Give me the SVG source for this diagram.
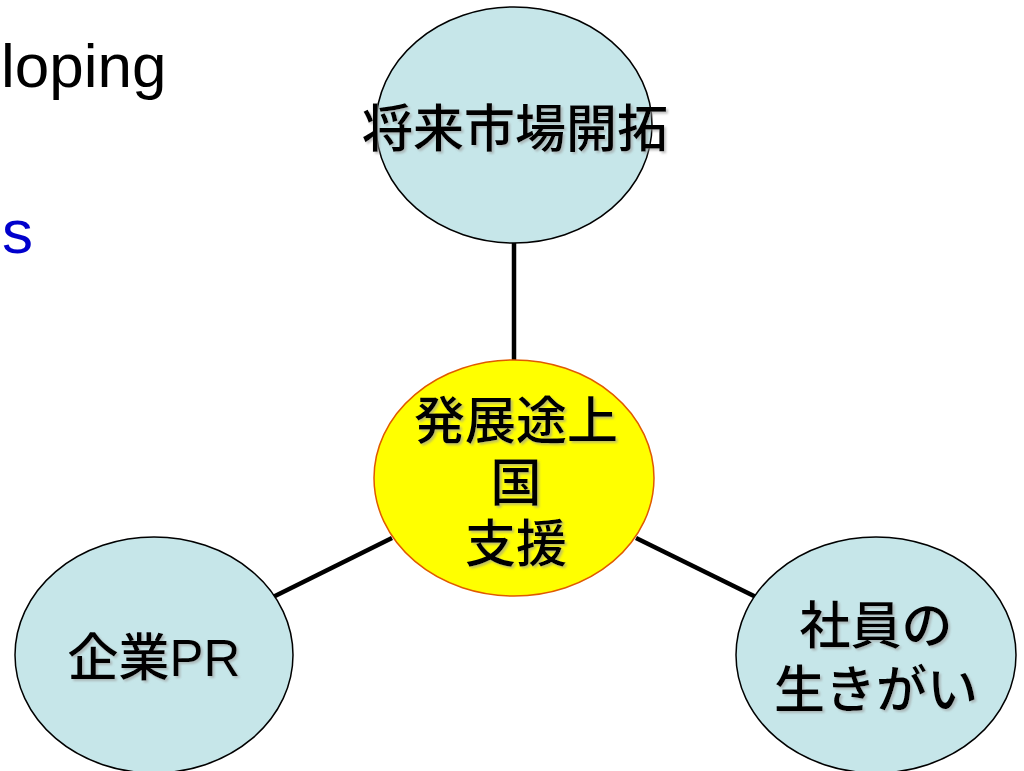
<svg xmlns="http://www.w3.org/2000/svg" width="1024" height="771" viewBox="0 0 1024 771">
<defs>
<style>
.node{fill:#c6e6e9;stroke:#000;stroke-width:1.5}
.center{fill:#ffff00;stroke:#e05a00;stroke-width:1.5}
.lbl{font-family:"Liberation Sans","Noto Sans CJK JP",sans-serif;font-size:51px;font-weight:500;fill:#000;text-anchor:middle;filter:url(#sh)}
.conn{stroke:#000;stroke-width:4.5;fill:none}
.bg{font-family:"Liberation Sans",Arial,sans-serif;font-size:62px}
</style>
<filter id="sh" x="-10%" y="-20%" width="120%" height="140%">
<feDropShadow dx="2" dy="2" stdDeviation="1" flood-color="#999" flood-opacity="0.6"/>
</filter>
</defs>
<rect width="1024" height="771" fill="#fff"/>
<text class="bg" x="1" y="87" fill="#000">loping</text>
<text class="bg" x="2" y="253" fill="#0000cc">s</text>
<g id="connectors">
<line class="conn" x1="514" y1="243" x2="514" y2="360"/>
<line class="conn" x1="392" y1="538" x2="273" y2="597"/>
<line class="conn" x1="636" y1="538" x2="756" y2="597"/>
</g>
<g id="node-top">
<ellipse class="node" cx="514" cy="125" rx="138" ry="118"/>
<text class="lbl" x="515" y="147">将来市場開拓</text>
</g>
<g id="node-center">
<ellipse class="center" cx="514" cy="478" rx="140" ry="118"/>
<text class="lbl" x="516" y="439">発展途上</text>
<text class="lbl" x="516" y="501">国</text>
<text class="lbl" x="516" y="562">支援</text>
</g>
<g id="node-left">
<ellipse class="node" cx="154" cy="655" rx="139" ry="118"/>
<text class="lbl" x="154" y="676">企業PR</text>
</g>
<g id="node-right">
<ellipse class="node" cx="876" cy="655" rx="140" ry="118"/>
<text class="lbl" x="876" y="644">社員の</text>
<text class="lbl" x="876" y="708">生きがい</text>
</g>
</svg>
